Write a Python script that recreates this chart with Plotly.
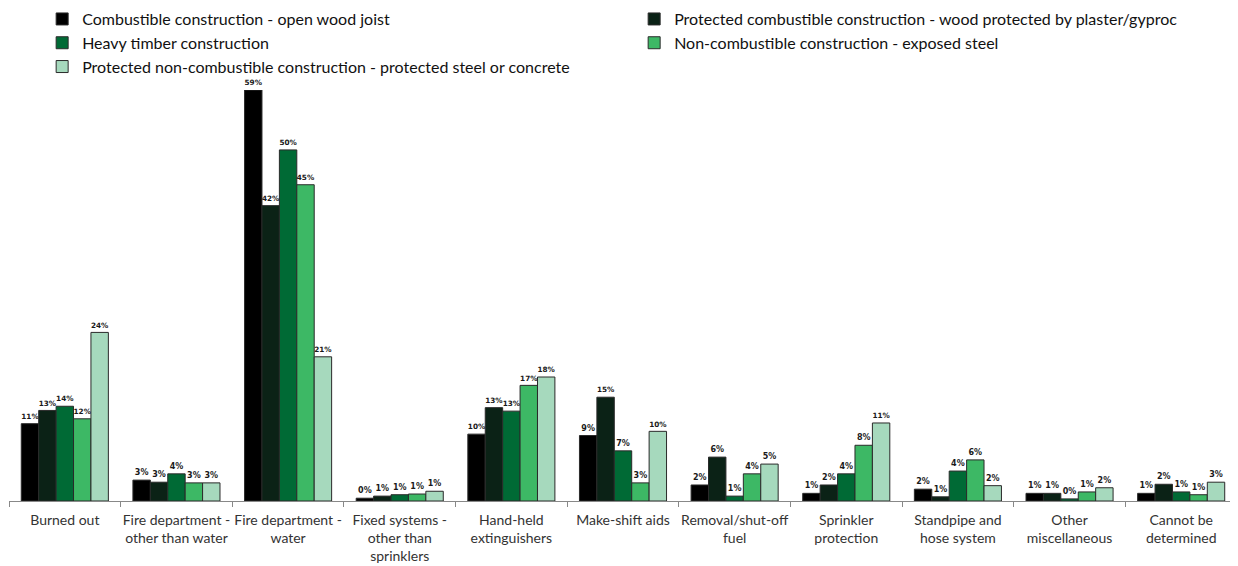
import plotly.graph_objects as go

categories = [
    "Burned out",
    "Fire department -<br>other than water",
    "Fire department -<br>water",
    "Fixed systems -<br>other than<br>sprinklers",
    "Hand-held<br>extinguishers",
    "Make-shift aids",
    "Removal/shut-off<br>fuel",
    "Sprinkler<br>protection",
    "Standpipe and<br>hose system",
    "Other<br>miscellaneous",
    "Cannot be<br>determined",
]

series_names = [
    "Combustible construction - open wood joist",
    "Protected combustible construction - wood protected by plaster/gyproc",
    "Heavy timber construction",
    "Non-combustible construction - exposed steel",
    "Protected non-combustible construction - protected steel or concrete",
]

combustible_open = [11.1, 3.0, 59.0, 0.4, 9.6, 9.4, 2.3, 1.1, 1.7, 1.1, 1.1]
protected_combustible = [13.0, 2.7, 42.4, 0.7, 13.4, 14.9, 6.3, 2.3, 0.6, 1.1, 2.4]
heavy_timber = [13.6, 3.9, 50.4, 0.9, 12.9, 7.2, 0.7, 3.9, 4.3, 0.3, 1.3]
noncomb_exposed = [11.8, 2.6, 45.4, 1.0, 16.6, 2.6, 3.9, 8.0, 5.9, 1.3, 0.9]
protected_noncomb = [24.2, 2.6, 20.7, 1.4, 17.8, 10.0, 5.3, 11.2, 2.2, 1.9, 2.7]

series_values = [combustible_open, protected_combustible, heavy_timber,
                 noncomb_exposed, protected_noncomb]
colors = ["#000000", "#0b2216", "#006a35", "#3db865", "#a6d9bd"]

FONT = "Lato, 'Open Sans', sans-serif"
LABEL_FONT = dict(size=8, color="#1a1a1a", family="'DejaVu Sans', sans-serif", weight="bold")

fig = go.Figure()
for name, vals, col in zip(series_names, series_values, colors):
    fig.add_trace(go.Bar(
        x=categories, y=vals, name=name,
        marker=dict(color=col, line=dict(color="#2a2a2a", width=1)),
        texttemplate="%{y:.0f}%", textposition="outside",
        textfont=LABEL_FONT, outsidetextfont=LABEL_FONT,
        cliponaxis=False,
    ))

fig.update_layout(
    width=1238, height=566,
    barmode="group", bargap=0.22, bargroupgap=0,
    paper_bgcolor="white", plot_bgcolor="white",
    margin=dict(l=1, r=9, t=82, b=73, autoexpand=False),
    font=dict(family=FONT, color="#222"),
    showlegend=True,
    legend=dict(
        orientation="h", x=0.027, xanchor="left", y=1.214, yanchor="top",
        entrywidth=547, entrywidthmode="pixels",
        bgcolor="rgba(0,0,0,0)",
        font=dict(size=16, family=FONT, color="#111"),
        traceorder="normal", tracegroupgap=0,
    ),
)
fig.update_xaxes(
    showline=True, linecolor="#888", linewidth=1, automargin=False,
    ticks="outside", tickson="boundaries", ticklen=5, tickcolor="#888",
    ticklabelstandoff=6, tickangle=0,
    tickfont=dict(size=14, family=FONT, color="#333"),
    showgrid=False,
)
fig.update_yaxes(visible=False, range=[0, 59], showgrid=False, zeroline=False)

fig.write_html("out.html")
